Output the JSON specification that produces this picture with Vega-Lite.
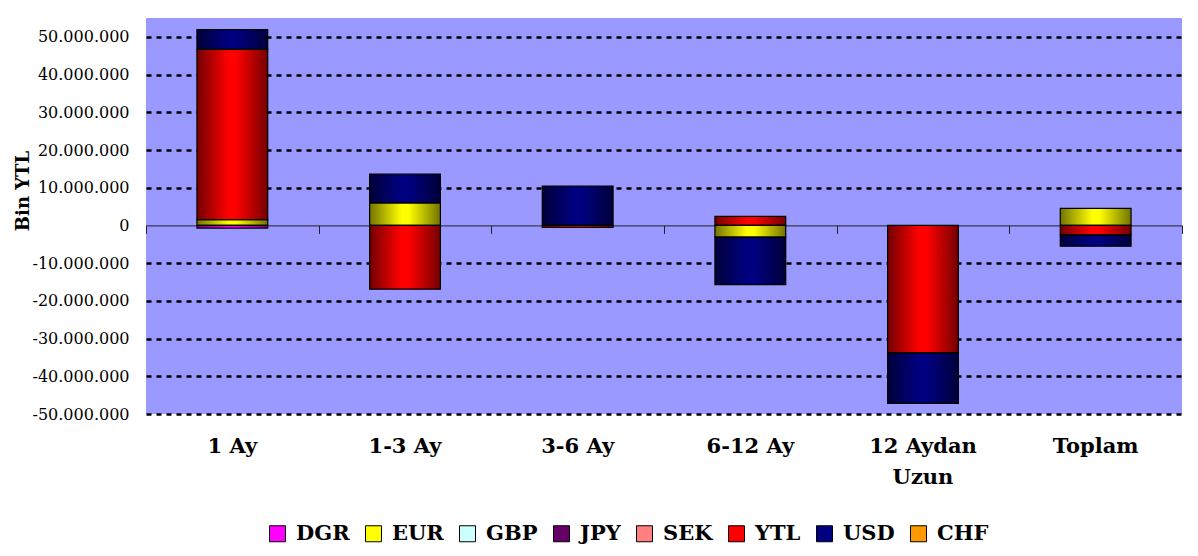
{
  "$schema": "https://vega.github.io/schema/vega-lite/v6.json",
  "width": 1036,
  "height": 396,
  "autosize": {"type": "none"},
  "padding": {"left": 146, "top": 18, "right": 16, "bottom": 142},
  "background": "white",
  "config": {"view": {"fill": "#9999FF", "stroke": null}, "font": "DejaVu Serif"},
  "data": {
    "values": [
      {"cat": "1 Ay", "s": "DGR", "v": -700000},
      {"cat": "1 Ay", "s": "EUR", "v": 1500000},
      {"cat": "1 Ay", "s": "YTL", "v": 45200000},
      {"cat": "1 Ay", "s": "USD", "v": 5200000},
      {"cat": "1-3 Ay", "s": "EUR", "v": 6000000},
      {"cat": "1-3 Ay", "s": "YTL", "v": -16900000},
      {"cat": "1-3 Ay", "s": "USD", "v": 7600000},
      {"cat": "3-6 Ay", "s": "YTL", "v": -500000},
      {"cat": "3-6 Ay", "s": "USD", "v": 10400000},
      {"cat": "6-12 Ay", "s": "EUR", "v": -3100000},
      {"cat": "6-12 Ay", "s": "YTL", "v": 2400000},
      {"cat": "6-12 Ay", "s": "USD", "v": -12600000},
      {"cat": "12 Aydan Uzun", "s": "YTL", "v": -33800000},
      {"cat": "12 Aydan Uzun", "s": "USD", "v": -13400000},
      {"cat": "Toplam", "s": "EUR", "v": 4500000},
      {"cat": "Toplam", "s": "YTL", "v": -2500000},
      {"cat": "Toplam", "s": "USD", "v": -3000000},
      {"cat": "Toplam", "s": "GBP", "v": 0},
      {"cat": "Toplam", "s": "JPY", "v": 0},
      {"cat": "Toplam", "s": "SEK", "v": 0},
      {"cat": "Toplam", "s": "CHF", "v": 0}
    ]
  },
  "transform": [
    {"calculate": "indexof(['DGR','EUR','GBP','JPY','SEK','YTL','USD','CHF'], datum.s)", "as": "ord"},
    {"stack": "v", "groupby": ["cat"], "sort": [{"field": "ord", "order": "ascending"}], "as": ["v0", "v1"], "offset": "zero"}
  ],
  "encoding": {
    "y": {
      "field": "v0",
      "type": "quantitative",
      "scale": {"domain": [-50000000, 55000000], "nice": false, "zero": false},
      "axis": {
        "values": [-50000000, -40000000, -30000000, -20000000, -10000000, 0, 10000000, 20000000, 30000000, 40000000, 50000000],
        "labelExpr": "(datum.value < 0 ? '-' : '') + replace(format(abs(datum.value), ','), regexp(',', 'g'), '.')",
        "labelFontSize": 16,
        "labelColor": "black",
        "labelPadding": 17,
        "ticks": false,
        "domain": false,
        "grid": true,
        "gridColor": "black",
        "gridWidth": 2.5,
        "gridDash": [5, 5],
        "gridOpacity": {"condition": {"test": "datum.value === 0", "value": 0}, "value": 1},
        "title": "Bin YTL",
        "titleFontSize": 18,
        "titleFontWeight": "bold",
        "titleColor": "black",
        "titleAngle": -90,
        "titleX": -118,
        "titleY": 172.5,
        "titleAlign": "center",
        "titleBaseline": "alphabetic"
      }
    },
    "y2": {"field": "v1"}
  },
  "layer": [
    {
      "mark": {"type": "bar", "width": {"band": 0.41}},
      "encoding": {
        "x": {
          "field": "cat",
          "type": "nominal",
          "sort": ["1 Ay", "1-3 Ay", "3-6 Ay", "6-12 Ay", "12 Aydan Uzun", "Toplam"],
          "scale": {"paddingInner": 0, "paddingOuter": 0},
          "axis": {
            "orient": "bottom",
            "domain": false,
            "ticks": false,
            "grid": false,
            "labelFontWeight": "bold",
            "labelFontSize": 21,
            "labelColor": "black",
            "labelPadding": 21,
            "labelAngle": 0,
            "labelBaseline": "top",
            "labelLineHeight": 31,
            "labelOverlap": false,
            "labelExpr": "datum.label == '12 Aydan Uzun' ? ['12 Aydan', 'Uzun'] : datum.label",
            "title": null
          }
        },
        "color": {
          "field": "s",
          "type": "nominal",
          "scale": {
            "domain": ["DGR", "EUR", "GBP", "JPY", "SEK", "YTL", "USD", "CHF"],
            "range": ["#FF00FF", "#FFFF00", "#CCFFFF", "#660066", "#FF8080", "#FF0000", "#000080", "#FF9900"]
          },
          "legend": {
            "orient": "none",
            "legendX": 121,
            "legendY": 505,
            "direction": "horizontal",
            "columns": 8,
            "title": null,
            "symbolType": "square",
            "symbolSize": 256,
            "symbolStrokeColor": "black",
            "symbolStrokeWidth": 1,
            "symbolOpacity": 1,
            "labelFontWeight": "bold",
            "labelFontSize": 21,
            "labelColor": "black",
            "labelOffset": 8,
            "columnPadding": 13
          }
        }
      }
    },
    {
      "transform": [{"filter": "datum.v != 0"}],
      "mark": {
        "type": "bar",
        "width": {"band": 0.41},
        "fill": {
          "gradient": "linear",
          "x1": 0, "y1": 0, "x2": 1, "y2": 0,
          "stops": [
            {"offset": 0, "color": "rgba(0,0,0,0.55)"},
            {"offset": 0.45, "color": "rgba(0,0,0,0)"},
            {"offset": 0.55, "color": "rgba(0,0,0,0)"},
            {"offset": 1, "color": "rgba(0,0,0,0.55)"}
          ]
        },
        "stroke": "black",
        "strokeWidth": 1.2
      },
      "encoding": {
        "x": {
          "field": "cat",
          "type": "nominal",
          "sort": ["1 Ay", "1-3 Ay", "3-6 Ay", "6-12 Ay", "12 Aydan Uzun", "Toplam"],
          "scale": {"paddingInner": 0, "paddingOuter": 0},
          "axis": {
            "orient": "bottom",
            "offset": -188.6,
            "labels": false,
            "ticks": true,
            "tickBand": "extent",
            "tickSize": 8,
            "tickColor": "#222222",
            "domain": true,
            "domainColor": "#222222",
            "domainWidth": 1,
            "grid": false,
            "title": null
          }
        }
      }
    }
  ],
  "resolve": {"axis": {"x": "independent"}}
}
